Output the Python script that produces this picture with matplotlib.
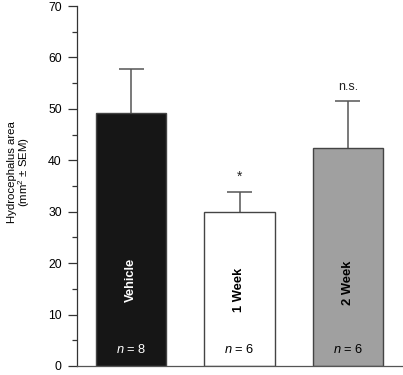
import matplotlib
matplotlib.use("Agg")
import matplotlib.pyplot as plt
from matplotlib.ticker import MultipleLocator

plt.rcParams['font.family'] = ['Liberation Sans', 'DejaVu Sans']
plt.rcParams['mathtext.fontset'] = 'custom'
plt.rcParams['mathtext.it'] = 'Liberation Sans:italic'
plt.rcParams['mathtext.rm'] = 'Liberation Sans'

categories = ["Vehicle", "1 Week", "2 Week"]
means = [49.1, 29.9, 42.3]
sem = [8.6, 3.9, 9.3]
n_values = [8, 6, 6]
significance = ["", "*", "n.s."]
colors = ["#161616", "#ffffff", "#a0a0a0"]
label_colors = ["white", "black", "black"]
label_y = [16.8, 14.8, 16.1]
sig_offset = [0, 1.6, 1.5]
sig_size = [9, 10, 9]

fig = plt.figure(figsize=(4.03, 3.75), dpi=100)
ax = fig.add_axes([77/403, 9/375, 325/403, 360/375])

x = list(range(len(categories)))
ax.bar(x, means, width=0.648, color=colors, edgecolor="#444444", linewidth=1.0, zorder=2)
tops = [m + s for m, s in zip(means, sem)]
ax.vlines(x, means, tops, color="#555555", linewidth=1.1, zorder=1)
ax.hlines(tops, [xi - 0.115 for xi in x], [xi + 0.115 for xi in x],
          color="#555555", linewidth=1.1, zorder=1)

for xi, lab, lc, ly in zip(x, categories, label_colors, label_y):
    ax.text(xi, ly, lab, rotation=90, ha='center', va='center', color=lc,
            fontsize=9.3, fontweight='bold')
for xi, nv, lc in zip(x, n_values, label_colors):
    ax.text(xi, 3.3, r"$\it{n}$" + f" = {nv}", ha='center', va='center', color=lc, fontsize=9.3)
for xi, t, sig, off, fs in zip(x, tops, significance, sig_offset, sig_size):
    if sig:
        ax.text(xi, t + off, sig, ha='center', va='bottom', fontsize=fs, color="#222222")

ax.set_xlim(-0.5, 2.5)
ax.set_ylim(0, 70)
ax.yaxis.set_major_locator(MultipleLocator(10))
ax.yaxis.set_minor_locator(MultipleLocator(5))
ax.tick_params(axis='y', which='major', length=6.5, width=0.9, color="#333333",
               labelsize=8.8, pad=4.5)
ax.tick_params(axis='y', which='minor', length=3.6, width=0.9, color="#333333")
ax.set_xticks([])
for sp in ['top', 'right']:
    ax.spines[sp].set_visible(False)
ax.spines['left'].set_color("#333333")
ax.spines['bottom'].set_color("#555555")
ax.spines['left'].set_linewidth(0.9)
ax.spines['bottom'].set_linewidth(0.9)

fig.text(12/403, 1 - 172.5/375, "Hydrocephalus area", rotation=90, ha='center', va='center', fontsize=8.2)
fig.text(24.5/403, 1 - 172.5/375, "(mm$^2$ ± SEM)", rotation=90, ha='center', va='center', fontsize=8.2)

fig.savefig("out.png", dpi=100)
